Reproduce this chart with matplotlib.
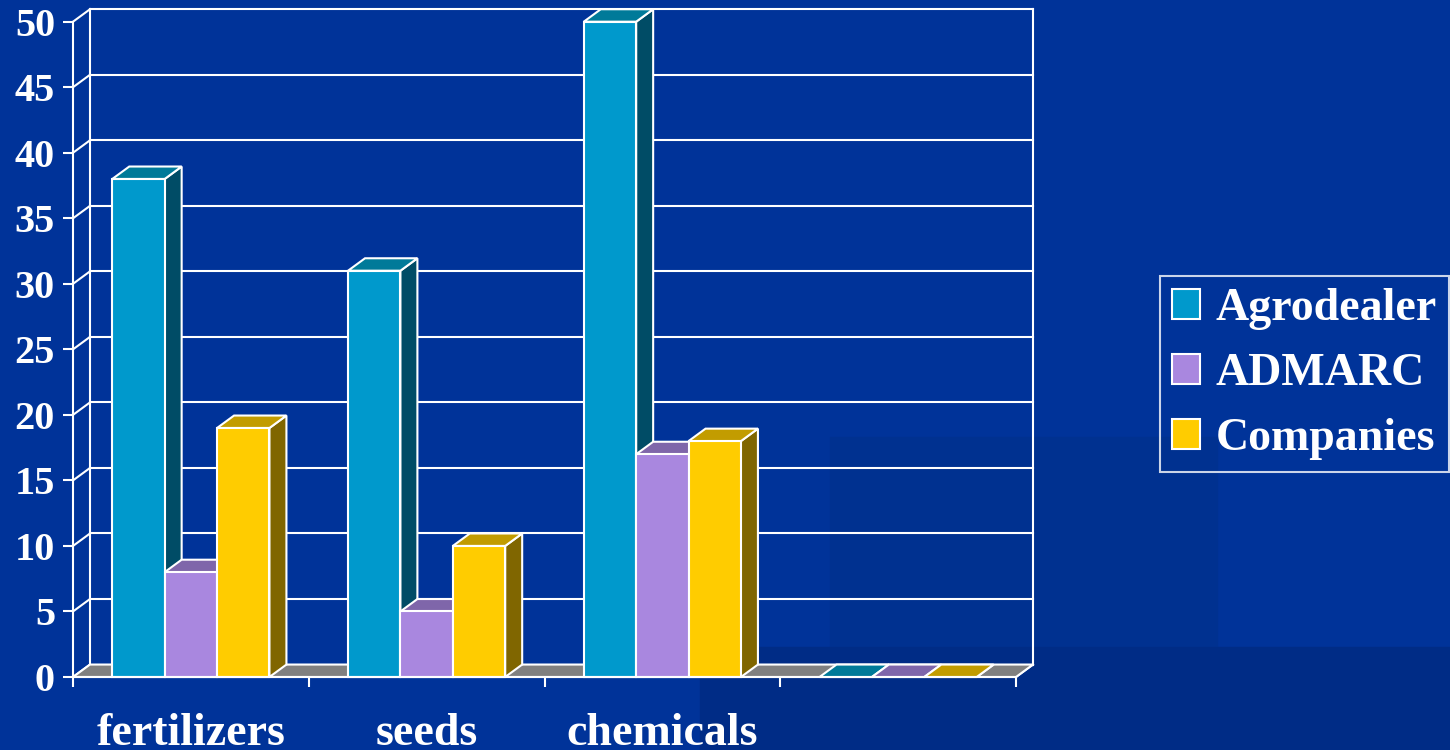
import matplotlib.pyplot as plt
from matplotlib.patches import Polygon, Rectangle, Patch

categories = ["fertilizers", "seeds", "chemicals", ""]
series = ["Agrodealer", "ADMARC", "Companies"]
agrodealer = [38, 31, 50, 0]
admarc = [8, 5, 17, 0]
companies = [19, 10, 18, 0]
y_ticks = list(range(0, 55, 5))

front_colors = ["#0099cc", "#a987df", "#ffcc00"]
top_colors = ["#007a99", "#7f66aa", "#c29c00"]
side_colors = ["#004c66", "#55447a", "#806600"]

BG = "#003399"
W, H = 1450, 750
FONT = dict(family="Liberation Serif", weight="bold", color="white")
FS = 33
LW = 1.5

# depth of the 3d effect, in data units
DX, DY = 0.072, 0.95
BAR_W = 1.0 / 4.5
GAP = (1.0 - 3 * BAR_W) / 2

fig = plt.figure(figsize=(W / 100, H / 100), dpi=100, facecolor=BG)


def bg_rect(x0, y0, x1, y1, color):
    # pixel box (top-left origin) -> figure patch behind everything
    fig.patches.append(Rectangle((x0 / W, 1 - y1 / H), (x1 - x0) / W, (y1 - y0) / H,
                                 transform=fig.transFigure, color=color, zorder=-10))


# slide template shading
bg_rect(830, 437, 1217, 647, "#003190")
bg_rect(700, 647, W, H, "#002c86")

ax = fig.add_axes([73 / W, (H - 677) / H, (1016 - 73) / W, (677 - 21.7) / H])
ax.set_xlim(0, 4)
ax.set_ylim(0, 50)
ax.patch.set_alpha(0)

# back wall grid + left wall diagonals
for v in y_ticks:
    ax.plot([DX, 4 + DX], [v + DY, v + DY], color="white", lw=LW, clip_on=False, zorder=1)
    ax.plot([0, DX], [v, v + DY], color="white", lw=LW, clip_on=False, zorder=1)
for xv in (DX, 4 + DX):
    ax.plot([xv, xv], [DY, 50 + DY], color="white", lw=LW, clip_on=False, zorder=1)
ax.plot([4, 4 + DX], [0, DY], color="white", lw=LW, clip_on=False, zorder=1)

# floor
ax.add_patch(Polygon([(0, 0), (4, 0), (4 + DX, DY), (DX, DY)], closed=True,
                     facecolor="#808080", edgecolor="white", lw=LW, clip_on=False, zorder=2))

values = [agrodealer, admarc, companies]
z = 3
for ci in range(len(categories)):
    for si in range(len(series)):
        v = values[si][ci]
        x0 = ci + GAP + si * BAR_W
        x1 = x0 + BAR_W
        ax.add_patch(Polygon([(x1, 0), (x1 + DX, DY), (x1 + DX, v + DY), (x1, v)], closed=True,
                             facecolor=side_colors[si], edgecolor="white", lw=LW,
                             clip_on=False, zorder=z))
        ax.add_patch(Polygon([(x0, v), (x0 + DX, v + DY), (x1 + DX, v + DY), (x1, v)], closed=True,
                             facecolor=top_colors[si], edgecolor="white", lw=LW,
                             clip_on=False, zorder=z))
        if v > 0:
            ax.add_patch(Rectangle((x0, 0), BAR_W, v, facecolor=front_colors[si],
                                   edgecolor="white", lw=LW, clip_on=False, zorder=z + 0.5))
        z += 1

for s in ("top", "right"):
    ax.spines[s].set_visible(False)
for s in ("left", "bottom"):
    ax.spines[s].set_color("white")
    ax.spines[s].set_linewidth(LW)
    ax.spines[s].set_zorder(50)

ax.set_yticks(y_ticks)
ax.set_yticklabels([str(v) for v in y_ticks], **FONT, fontsize=29)
ax.tick_params(axis="y", direction="out", length=7, width=LW, color="white", pad=6)

ax.set_xticks(range(5))
ax.set_xticklabels([""] * 5)
ax.set_xticks([i + 0.5 for i in range(4)], minor=True)
ax.set_xticklabels(categories, minor=True, **FONT, fontsize=FS)
ax.tick_params(axis="x", which="major", direction="out", length=7, width=LW, color="white")
ax.tick_params(axis="x", which="minor", length=0, pad=26)

handles = [Patch(facecolor=c, edgecolor="white", lw=LW) for c in front_colors]
leg = fig.legend(handles, series, loc="center left", bbox_to_anchor=(1160 / W, 1 - 374 / H),
                 frameon=True, fancybox=False, facecolor="none", edgecolor="white",
                 prop=dict(family="Liberation Serif", weight="bold", size=FS),
                 handlelength=0.62, handleheight=0.62, handletextpad=0.33,
                 labelspacing=0.5, borderpad=0.26, borderaxespad=0)
leg.get_frame().set_linewidth(LW)
for t in leg.get_texts():
    t.set_color("white")

fig.savefig("out.png", dpi=100, facecolor=BG)
